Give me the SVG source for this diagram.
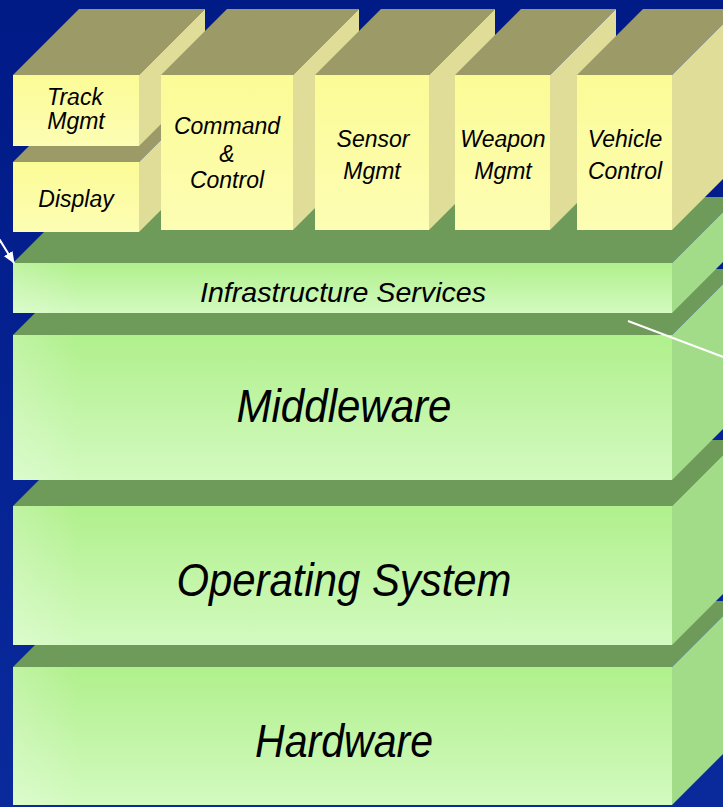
<svg xmlns="http://www.w3.org/2000/svg" width="723" height="807" viewBox="0 0 723 807">
  <defs>
    <linearGradient id="bg" x1="0" y1="0" x2="0" y2="1">
      <stop offset="0" stop-color="#001a86"/>
      <stop offset="1" stop-color="#0a2a9c"/>
    </linearGradient>
    <linearGradient id="gFront" x1="0" y1="0" x2="0" y2="1">
      <stop offset="0" stop-color="#b0f08c"/>
      <stop offset="1" stop-color="#d3fac0"/>
    </linearGradient>
    <linearGradient id="gLeft" x1="0" y1="0" x2="1" y2="0">
      <stop offset="0" stop-color="#ffffff" stop-opacity="0.2"/>
      <stop offset="0.1" stop-color="#ffffff" stop-opacity="0"/>
    </linearGradient>
    <linearGradient id="yFront" x1="0" y1="0" x2="0" y2="1">
      <stop offset="0" stop-color="#fbfb96"/>
      <stop offset="1" stop-color="#fdfdb4"/>
    </linearGradient>
    <marker id="arrow" viewBox="0 0 12 10" refX="11" refY="5" markerWidth="12" markerHeight="10" markerUnits="userSpaceOnUse" orient="auto">
      <path d="M0,0 L12,5 L0,10 Z" fill="#ffffff"/>
    </marker>
  </defs>
  <style>
    .gTop { fill: #6e9a5a; }
    .gSide { fill: #a3dc88; }
    .gFront { fill: url(#gFront); }
    .gLeft { fill: url(#gLeft); }
    .yTop { fill: #9c9a66; }
    .ySide { fill: #e0dd98; }
    .yFront { fill: url(#yFront); }
    text { font-family: "Liberation Sans", Arial, sans-serif; font-style: italic; fill: #000000; text-anchor: middle; }
    .big { font-size: 46px; }
    .mid { font-size: 28px; }
    .small { font-size: 23px; }
    .conn { stroke: #ffffff; stroke-width: 2; fill: none; }
  </style>

  <rect x="0" y="0" width="723" height="807" fill="url(#bg)"/>

  <g id="layer-hardware">
    <polygon class="gTop" points="13,667 672,667 738,601 79,601"/>
    <polygon class="gSide" points="672,667 738,601 738,739 672,805"/>
    <rect class="gFront" x="13" y="667" width="659" height="138"/>
    <rect class="gLeft" x="13" y="667" width="659" height="138"/>
    <text class="big" x="344" y="757" textLength="178" lengthAdjust="spacingAndGlyphs">Hardware</text>
  </g>

  <g id="layer-os">
    <polygon class="gTop" points="13,506 672,506 738,440 79,440"/>
    <polygon class="gSide" points="672,506 738,440 738,579 672,645"/>
    <rect class="gFront" x="13" y="506" width="659" height="139"/>
    <rect class="gLeft" x="13" y="506" width="659" height="139"/>
    <text class="big" x="344" y="596" textLength="335" lengthAdjust="spacingAndGlyphs">Operating System</text>
  </g>

  <g id="layer-middleware">
    <polygon class="gTop" points="13,335 672,335 738,269 79,269"/>
    <polygon class="gSide" points="672,335 738,269 738,414 672,480"/>
    <rect class="gFront" x="13" y="335" width="659" height="145"/>
    <rect class="gLeft" x="13" y="335" width="659" height="145"/>
    <text class="big" x="344" y="422" textLength="215" lengthAdjust="spacingAndGlyphs">Middleware</text>
  </g>

  <g id="layer-infrastructure">
    <polygon class="gTop" points="13,263 672,263 738,197 79,197"/>
    <polygon class="gSide" points="672,263 738,197 738,247 672,313"/>
    <rect class="gFront" x="13" y="263" width="659" height="50"/>
    <rect class="gLeft" x="13" y="263" width="659" height="50"/>
    <text class="mid" x="343" y="302" textLength="286" lengthAdjust="spacingAndGlyphs">Infrastructure Services</text>
  </g>

  <g id="app-display">
    <polygon class="yTop" points="13,162 139,162 205,96 79,96"/>
    <polygon class="ySide" points="139,162 205,96 205,166 139,232"/>
    <rect class="yFront" x="13" y="162" width="126" height="70"/>
    <text class="small" x="76" y="207">Display</text>
  </g>

  <g id="app-track">
    <polygon class="yTop" points="13,75 139,75 205,9 79,9"/>
    <polygon class="ySide" points="139,75 205,9 205,80 139,146"/>
    <rect class="yFront" x="13" y="75" width="126" height="71"/>
    <text class="small" x="75" y="105">Track</text>
    <text class="small" x="76" y="129">Mgmt</text>
  </g>

  <g id="app-command-control">
    <polygon class="yTop" points="161,75 293,75 359,9 227,9"/>
    <polygon class="ySide" points="293,75 359,9 359,164 293,230"/>
    <rect class="yFront" x="161" y="75" width="132" height="155"/>
    <text class="small" x="227" y="134">Command</text>
    <text class="small" x="227" y="162">&amp;</text>
    <text class="small" x="227" y="188">Control</text>
  </g>

  <g id="app-sensor">
    <polygon class="yTop" points="315,75 429,75 495,9 381,9"/>
    <polygon class="ySide" points="429,75 495,9 495,164 429,230"/>
    <rect class="yFront" x="315" y="75" width="114" height="155"/>
    <text class="small" x="373" y="147">Sensor</text>
    <text class="small" x="372" y="179">Mgmt</text>
  </g>

  <g id="app-weapon">
    <polygon class="yTop" points="455,75 550,75 616,9 521,9"/>
    <polygon class="ySide" points="550,75 616,9 616,164 550,230"/>
    <rect class="yFront" x="455" y="75" width="95" height="155"/>
    <text class="small" x="503" y="147">Weapon</text>
    <text class="small" x="503" y="179">Mgmt</text>
  </g>

  <g id="app-vehicle">
    <polygon class="yTop" points="577,75 672,75 738,9 643,9"/>
    <polygon class="ySide" points="672,75 738,9 738,164 672,230"/>
    <rect class="yFront" x="577" y="75" width="95" height="155"/>
    <text class="small" x="625" y="147">Vehicle</text>
    <text class="small" x="625" y="179">Control</text>
  </g>

  <g id="connectors">
    <line class="conn" x1="-2" y1="237" x2="14" y2="263" marker-end="url(#arrow)"/>
    <line class="conn" x1="628" y1="321" x2="726" y2="358"/>
  </g>
</svg>
